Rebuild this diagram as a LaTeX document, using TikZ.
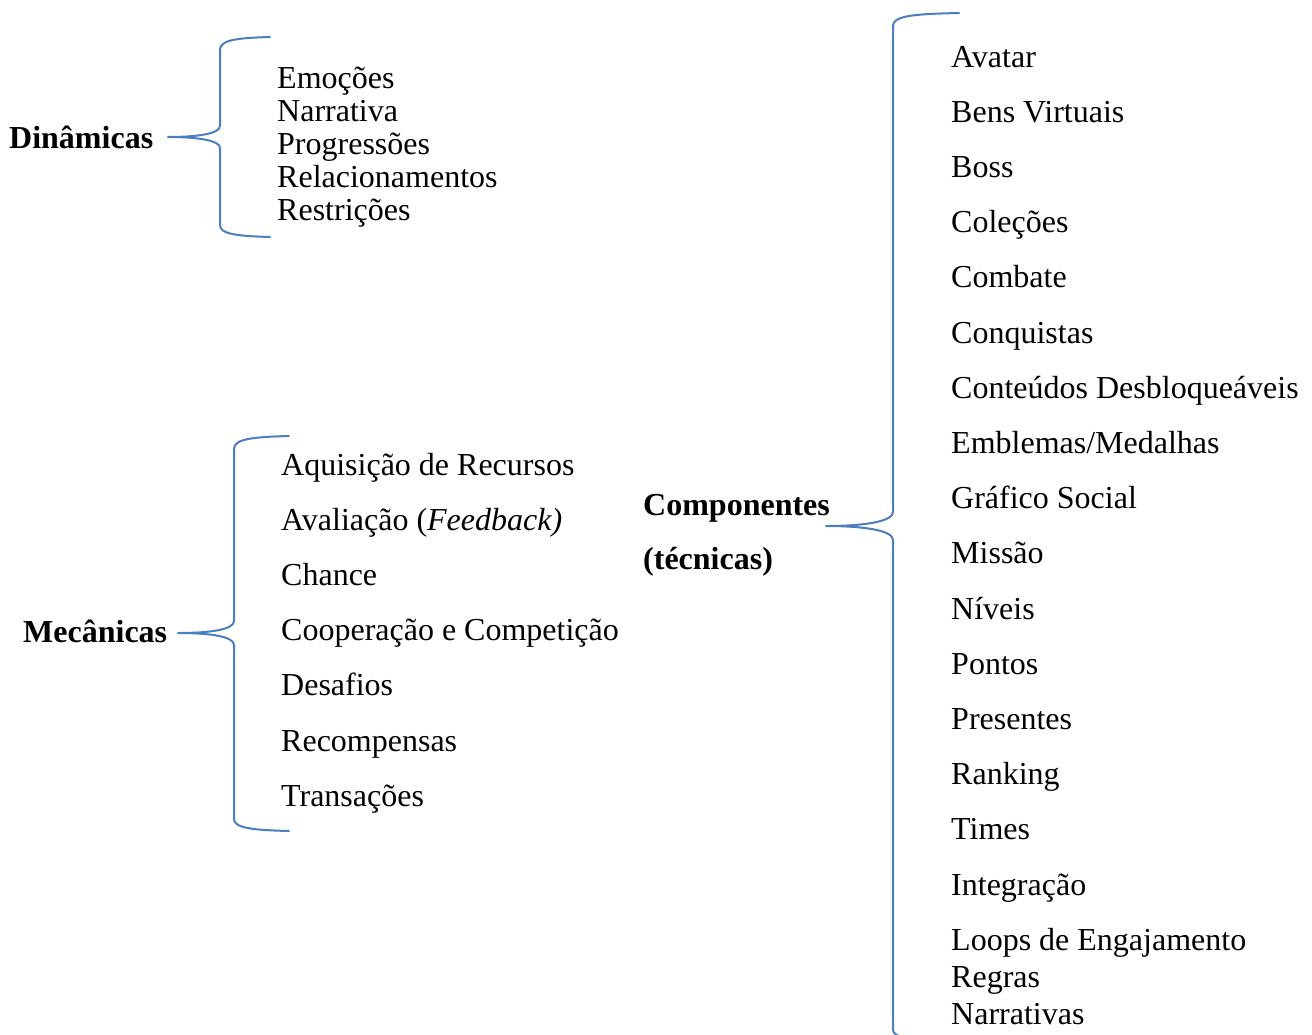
\documentclass[tikz,border=0pt]{standalone}
\usepackage{fontspec}
\setmainfont{Liberation Serif}
\definecolor{braceblue}{HTML}{4A7EC0}
\begin{document}
\begin{tikzpicture}[x=1pt,y=-1pt,
  item/.style={anchor=base west,inner sep=0pt,font=\fontsize{32pt}{36pt}\selectfont},
  head/.style={item,font=\fontsize{32pt}{36pt}\selectfont\bfseries},
  brace/.style={draw=braceblue,line width=2pt,line cap=round,line join=round}]
\useasboundingbox (0,0) rectangle (1312,1034);

% --- Dinamicas ---
\node[head] (din) at (9,148) {Dinâmicas};
\foreach \t [count=\i] in {Emoções,Narrativa,Progressões,Relacionamentos,Restrições}
  \node[item] (d\i) at (277,{88+33*(\i-1)}) {\t};
\coordinate (dtip) at (168,137);
\path[brace] (270,37) .. controls (236,38) and (220,40) .. (220,50) -- (220,126)
  .. controls (220,134) and (196,137) .. (dtip)
  .. controls (196,137) and (220,140) .. (220,148) -- (220,225)
  .. controls (220,234) and (236,236) .. (270,237);

% --- Mecanicas ---
\node[head] (mec) at (23,642) {Mecânicas};
\foreach \t [count=\i] in {Aquisição de Recursos,{Avaliação (\textit{Feedback)}},Chance,Cooperação e Competição,Desafios,Recompensas,Transações}
  \node[item] (m\i) at (281,{475+55.2*(\i-1)}) {\t};
\coordinate (mtip) at (178,633);
\path[brace] (289,436) .. controls (252,437) and (234,439) .. (234,449) -- (234,621)
  .. controls (234,630) and (208,633) .. (mtip)
  .. controls (208,633) and (234,636) .. (234,645) -- (234,819)
  .. controls (234,828) and (252,830) .. (289,831);

% --- Componentes ---
\node[head] (comp) at (643,515) {Componentes};
\node[head] (tec) at (643,569) {(técnicas)};
\foreach \t [count=\i] in {Avatar,Bens Virtuais,Boss,Coleções,Combate,Conquistas,Conteúdos Desbloqueáveis,Emblemas/Medalhas,Gráfico Social,Missão,Níveis,Pontos,Presentes,Ranking,Times,Integração,Loops de Engajamento}
  \node[item] (c\i) at (951,{67+55.2*(\i-1)}) {\t};
\node[item] (c18) at (951,987) {Regras};
\node[item] (c19) at (951,1024) {Narrativas};
\coordinate (ctip) at (826,526);
\begin{scope}
\clip (0,0) rectangle (1312,1034);
\path[brace] (959,13) .. controls (912,14) and (893,16) .. (893,26) -- (893,512)
  .. controls (893,522) and (862,526) .. (ctip)
  .. controls (862,526) and (893,530) .. (893,540) -- (893,1030)
  .. controls (893,1038) and (912,1040) .. (959,1041);
\end{scope}
\end{tikzpicture}
\end{document}
